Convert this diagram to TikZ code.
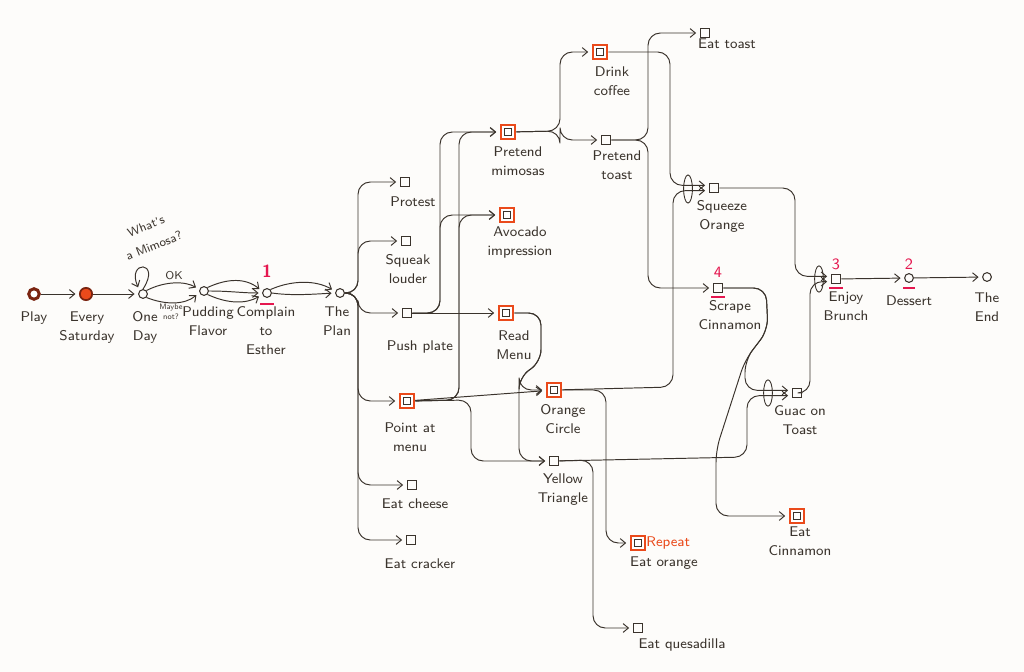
\documentclass[tikz,border=0pt]{standalone}
\usetikzlibrary{arrows.meta, positioning, shapes.geometric, calc}
\definecolor{ink}{HTML}{3A332C}
\definecolor{orng}{HTML}{EA4A1B}
\definecolor{drkred}{HTML}{7A2410}
\definecolor{numred}{HTML}{E5174F}
\definecolor{paper}{HTML}{FDFCFA}

\begin{document}
\begin{tikzpicture}[x=0.02cm, y=-0.02cm,
    link/.style={draw=ink, line width=0.55pt, rounded corners=7pt, shorten >=2pt,
                 -{Straight Barb[length=3pt, width=5pt]}},
    dot/.style={circle, draw=ink, line width=0.6pt, minimum size=5pt, inner sep=0pt},
    box/.style={rectangle, draw=ink, line width=0.6pt, minimum size=5.5pt, inner sep=0pt},
    hotbox/.style={rectangle, draw=orng, line width=1.4pt, fill=white, minimum size=8pt, inner sep=0pt,
                   path picture={\draw[ink, line width=0.5pt]
                     ([shift={(2.1pt,2.1pt)}]path picture bounding box.south west) rectangle
                     ([shift={(-2.1pt,-2.1pt)}]path picture bounding box.north east);}},
    startring/.style={circle, draw=drkred, line width=1.7pt, fill=white, minimum size=6pt, inner sep=0pt},
    startdot/.style={circle, draw=drkred, line width=1pt, fill=orng, minimum size=7pt, inner sep=0pt},
    andoval/.style={ellipse, draw=ink, line width=0.5pt, minimum width=5pt, minimum height=16pt, inner sep=0pt},
    txt/.style={font=\sffamily\fontsize{8}{11}\selectfont, text=ink, align=center, inner sep=0pt, anchor=north},
    tinytxt/.style={font=\sffamily\fontsize{4.5}{5.5}\selectfont, text=ink, align=center, inner sep=0pt},
    num/.style={font=\sffamily\fontsize{9}{10}\selectfont, text=numred, inner sep=0pt},
    uline/.style={draw=numred, line width=1.2pt},
  ]
    \useasboundingbox[fill=paper] (0,0) rectangle (1024,672);

    % Opening chain
    \node[startring] (play) at (34,294) {};
    \node[startdot] (every) at (86,294) {};
    \node[dot] (oneday) at (143,294) {};
    \node[dot] (pudding) at (204,291) {};
    \node[dot] (complain) at (267,293) {};
    \node[dot] (theplan) at (340,293) {};

    % The plan: choices
    \node[box] (protest) at (405,182) {};
    \node[box] (squeak) at (406,241) {};
    \node[box] (pushplate) at (407,313) {};
    \node[hotbox] (pointmenu) at (407,401) {};
    \node[box] (eatcheese) at (412,485) {};
    \node[box] (eatcracker) at (411,540) {};

    % Second column
    \node[hotbox] (mimosas) at (508,132) {};
    \node[hotbox] (avocado) at (507,215) {};
    \node[hotbox] (readmenu) at (506,313) {};
    \node[hotbox] (orangecirc) at (554,390) {};
    \node[box] (yellowtri) at (554,461) {};

    % Third column
    \node[hotbox] (coffee) at (600,52) {};
    \node[box] (pretoast) at (606,140) {};
    \node[hotbox] (eatorange) at (638,543) {};
    \node[box] (quesadilla) at (638,628) {};
    \node[box] (eattoast) at (705,33) {};
    \node[box] (squeeze) at (714,188) {};
    \node[box] (scrape) at (718,288) {};
    \node[box] (guac) at (797,393) {};
    \node[hotbox] (eatcinn) at (797,516) {};

    % Ending
    \node[box] (brunch) at (836,279) {};
    \node[dot] (dessert) at (909,278) {};
    \node[dot] (theend) at (987,277) {};

    % Labels
    \node[txt] (play-t) at (34,311) {Play};
    \node[txt] (every-t) at (87,311) {Every\\Saturday};
    \node[txt] (oneday-t) at (145,311) {One\\Day};
    \node[txt] (pudding-t) at (208,306) {Pudding\\Flavor};
    \node[txt] (complain-t) at (266,306) {Complain\\to\\Esther};
    \node[txt] (theplan-t) at (337,306) {The\\Plan};
    \node[txt] (protest-t) at (413,196) {Protest};
    \node[txt] (squeak-t) at (408,254) {Squeak\\louder};
    \node[txt] (pushplate-t) at (420,340) {Push plate};
    \node[txt] (pointmenu-t) at (410,422) {Point at\\menu};
    \node[txt] (eatcheese-t) at (415,498) {Eat cheese};
    \node[txt] (eatcracker-t) at (420,558) {Eat cracker};
    \node[txt] (mimosas-t) at (518,146) {Pretend\\mimosas};
    \node[txt] (avocado-t) at (520,226) {Avocado\\impression};
    \node[txt] (readmenu-t) at (514,330) {Read\\Menu};
    \node[txt] (orangecirc-t) at (563,404) {Orange\\Circle};
    \node[txt] (yellowtri-t) at (563,473) {Yellow\\Triangle};
    \node[txt] (coffee-t) at (612,66) {Drink\\coffee};
    \node[txt] (pretoast-t) at (617,150) {Pretend\\toast};
    \node[txt] (eattoast-t) at (727,38) {Eat toast};
    \node[txt] (squeeze-t) at (722,200) {Squeeze\\Orange};
    \node[txt] (scrape-t) at (730,300) {Scrape\\Cinnamon};
    \node[txt] (guac-t) at (800,405) {Guac on\\Toast};
    \node[txt] (eatcinn-t) at (800,526) {Eat\\Cinnamon};
    \node[txt] (eatorange-t) at (664,556) {Eat orange};
    \node[txt, anchor=west, text=orng] (repeat-t) at (646,543) {Repeat};
    \node[txt] (quesadilla-t) at (682,638) {Eat quesadilla};
    \node[txt] (brunch-t) at (846,291) {Enjoy\\Brunch};
    \node[txt] (dessert-t) at (909,295) {Dessert};
    \node[txt] (theend-t) at (987,292) {The\\End};
    \node[txt, anchor=center, rotate=22, font=\sffamily\fontsize{7}{12}\selectfont] (mimosa-q) at (150,236) {What's\\a Mimosa?};
    \node[txt, anchor=center, font=\sffamily\fontsize{6.5}{7}\selectfont] (ok-t) at (174,276) {OK};
    \node[tinytxt] (maybe-t) at (171,312) {Maybe\\not?};

    % Priority numbers
    \node[num, font=\sffamily\bfseries\fontsize{10}{10}\selectfont] (n1) at (267,271) {1};
    \node[num] (n4) at (718,272) {4};
    \node[num] (n3) at (836,264) {3};
    \node[num] (n2) at (909,264) {2};
    \draw[uline] ($(complain.south)+(-7,6)$) -- ++(14,0);
    \draw[uline] ($(scrape.south)+(-7,4)$) -- ++(14,0);
    \draw[uline] ($(brunch.south)+(-7,4)$) -- ++(14,0);
    \draw[uline] ($(dessert.south)+(-6,5)$) -- ++(12,0);

    % Opening connectors
    \draw[link] (play) -- (every);
    \draw[link] (every) -- (oneday);
    \draw[link] (oneday.north) .. controls (162,260) and (126,260) .. (oneday.north west);
    \draw[link] (oneday.north east) .. controls (165,281) and (185,281) .. ([yshift=1pt]pudding.west);
    \draw[link] (oneday.south east) .. controls (165,305) and (185,305) .. ([yshift=-1pt]pudding.west);
    \draw[link] (pudding.north east) .. controls (228,278) and (246,278) .. ([yshift=1pt]complain.west);
    \draw[link] (pudding.east) .. controls (230,291) and (242,293) .. (complain.west);
    \draw[link] (pudding.south east) .. controls (228,304) and (246,304) .. ([yshift=-1pt]complain.west);
    \draw[link] (complain.north east) .. controls (292,280) and (316,280) .. ([yshift=1pt]theplan.west);
    \draw[link] (complain.east) .. controls (292,296) and (316,294) .. (theplan.west);

    % The plan fans out
    \draw[link] (theplan) -- (358,293) |- (protest);
    \draw[link] (theplan) -- (358,293) |- (squeak);
    \draw[link] (theplan) -- (358,293) |- (pushplate);
    \draw[link] (theplan) -- (358,293) |- (pointmenu);
    \draw[link] (theplan) -- (358,293) |- (eatcheese);
    \draw[link] (theplan) -- (358,293) |- (eatcracker);

    % Push plate / point at menu
    \draw[link] (pushplate) -- (440,313) |- (mimosas);
    \draw[link] (pushplate) -- (440,313) |- (avocado);
    \draw[link] (pushplate) -- (readmenu);
    \draw[link] (pointmenu) -- (459,400) |- (mimosas);
    \draw[link] (pointmenu) -- (459,400) |- (avocado);
    \draw[link] (pointmenu) -- (orangecirc);
    \draw[link] (pointmenu) -- (471,400) |- (yellowtri);

    % Read menu
    \draw[link] (readmenu) -- (541,313) -- (541,362) -- (519,377) |- (orangecirc);
    \draw[link] (readmenu) -- (541,313) -- (541,362) -- (519,377) |- (yellowtri);

    % Mimosas, coffee, toast
    \draw[link] (mimosas) -- (560,131) |- (coffee);
    \draw[link] (mimosas) -- (560,131) |- (pretoast);
    \draw[link] (coffee) -- (670,52) |- ([yshift=1.5pt]squeeze.west);
    \draw[link] (pretoast) -- (648,140) |- (eattoast);
    \draw[link] (pretoast) -- (648,140) |- (scrape);

    % Orange circle, yellow triangle
    \draw[link] (orangecirc) -- (673,387) |- ([yshift=-1.5pt]squeeze.west);
    \draw[link] (orangecirc) -- (606,390) |- (eatorange);
    \draw[link] (yellowtri) -- (747,457) |- ([yshift=-1.5pt]guac.west);
    \draw[link] (yellowtri) -- (593,460) |- (quesadilla);

    % Cinnamon
    \draw[link] (scrape) -- (766,288) -- (768,330) -- (745,360) |- ([yshift=1.5pt]guac.west);
    \draw[link] (scrape) -- (766,288) -- (768,330) -- (745,360) -- (716,450) |- (eatcinn);

    % Brunch and the end
    \draw[link] (squeeze) -- (795,188) |- ([yshift=1.5pt]brunch.west);
    \draw[link] (guac) -- (810,393) |- ([yshift=-1.5pt]brunch.west);
    \draw[link] (brunch) -- (dessert);
    \draw[link] (dessert) -- (theend);

    % Joins
    \node[andoval] (sq-join) at (688,189) {};
    \node[andoval, minimum height=15pt] (gu-join) at (768,393) {};
    \node[andoval, minimum height=15pt] (br-join) at (819,279) {};
  \end{tikzpicture}
\end{document}
